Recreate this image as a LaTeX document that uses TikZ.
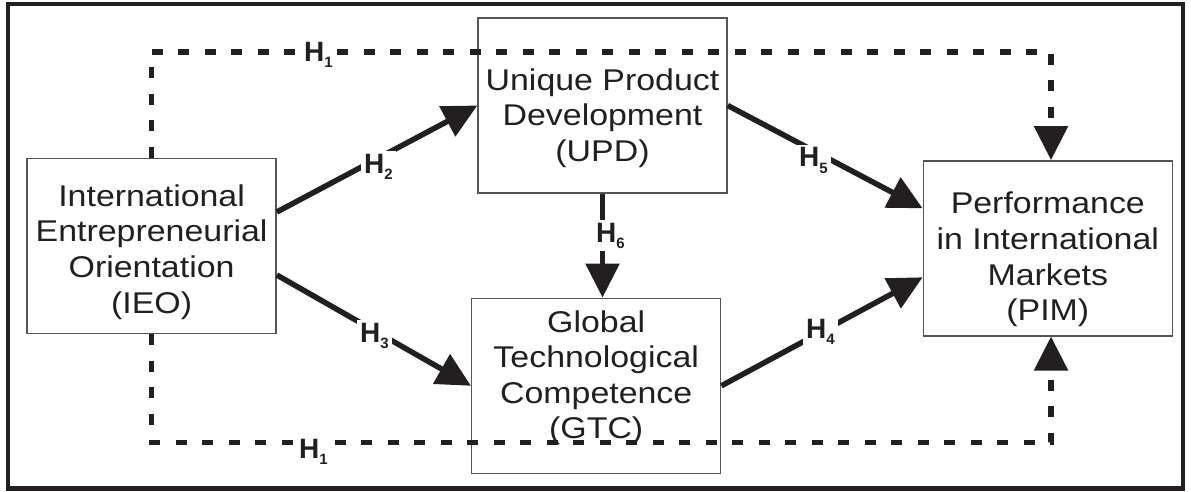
\documentclass[tikz,border=0pt]{standalone}
\usepackage{fontspec}
\setmainfont{Liberation Sans}[FakeStretch=1.13]
\newfontfamily\labelfont{Liberation Sans}
\usepackage{tikz}
\usetikzlibrary{arrows.meta,positioning}
\definecolor{ink}{RGB}{35,31,32}
\definecolor{boxline}{RGB}{85,85,85}
\newcommand{\hyp}[1]{H\raisebox{-6pt}{\fontsize{15}{15}\selectfont #1}}

\begin{document}
\begin{tikzpicture}[x=1pt,y=-1pt,
  box/.style={draw=boxline,line width=1.4pt,minimum width=249pt,minimum height=175pt},
  boxtext/.style={align=center,text=ink,inner sep=0pt,font=\fontsize{30}{35.6}\selectfont},
  hlabel/.style={fill=white,text=ink,inner sep=3pt,anchor=base west,font=\labelfont\bfseries\fontsize{28}{28}\selectfont},
  link/.style={draw=ink,line width=5.5pt,-{Triangle[length=34pt,width=33pt]}},
  hlink/.style={link,dash pattern=on 11pt off 15.5pt}]
\useasboundingbox (0,0) rectangle (1191,492);
\draw[ink,line width=4.6pt] (8,4) rectangle (1183,488.5);

\node[box] (ieo) at (151.6,246) {};
\node[box] (upd) at (602.5,105.5) {};
\node[box] (gtc) at (596.2,385.8) {};
\node[box] (pim) at (1047.8,248.3) {};
\node[boxtext] (ieotext) at (151.6,252) {International\\Entrepreneurial\\Orientation\\(IEO)};
\node[boxtext] (updtext) at (602.5,118) {Unique Product\\Development\\(UPD)};
\node[boxtext] (gtctext) at (596.2,377.8) {Global\\Technological\\Competence\\(GTC)};
\node[boxtext] (pimtext) at (1047.8,259.5) {Performance\\in International\\Markets\\(PIM)};

\coordinate (topturn) at (1051,52);
\coordinate (botturn) at (1051,442.7);
\draw[hlink] (ieo.north) |- (topturn) -- (topturn |- pim.north);
\draw[hlink] (ieo.south) |- (botturn) -- (botturn |- pim.south);
\draw[link] ([yshift=34pt]ieo.east) -- (upd.west);
\draw[link] ([yshift=-29pt]ieo.east) -- (gtc.west);
\draw[link] (upd.east) -- ([yshift=40pt]pim.west);
\draw[link] (gtc.east) -- ([yshift=-29pt]pim.west);
\draw[link] (upd.south) -- (upd.south |- gtc.north);

\node[hlabel] (h1top) at (301,62) {\hyp{1}};
\node[hlabel] (h1bot) at (296,458) {\hyp{1}};
\node[hlabel] (h2) at (361,173) {\hyp{2}};
\node[hlabel] (h3) at (357,342) {\hyp{3}};
\node[hlabel] (h5) at (796,167) {\hyp{5}};
\node[hlabel] (h4) at (803,338) {\hyp{4}};
\node[hlabel] (h6) at (593,242) {\hyp{6}};
\end{tikzpicture}
\end{document}
